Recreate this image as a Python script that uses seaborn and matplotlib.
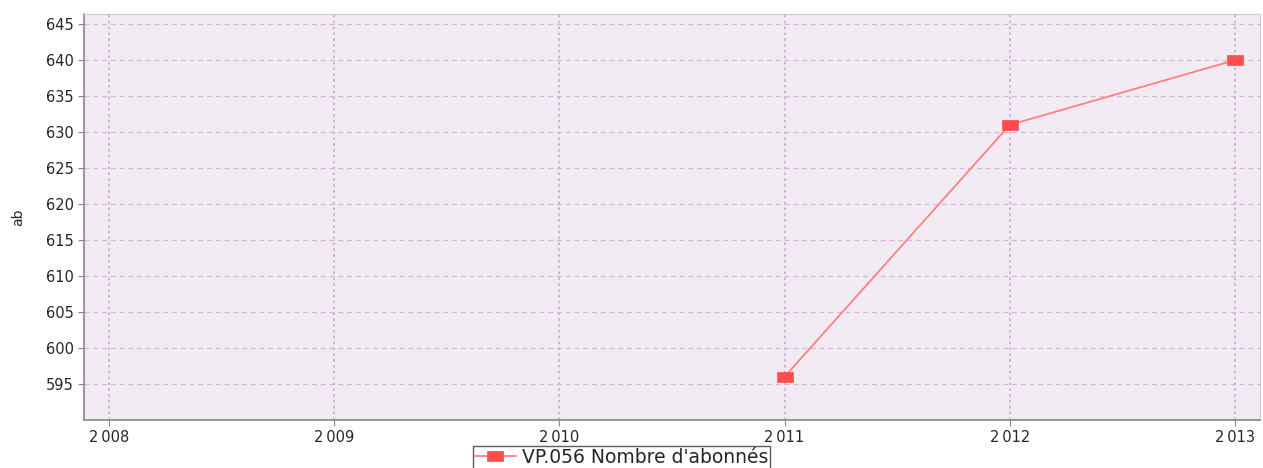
import matplotlib
matplotlib.use("Agg")
import matplotlib.pyplot as plt
import seaborn as sns
import pandas as pd

# données
years = [2011, 2012, 2013]
abonnes = [596, 631, 640]
xticks = [2008, 2009, 2010, 2011, 2012, 2013]
yticks = [595, 600, 605, 610, 615, 620, 625, 630, 635, 640, 645]
serie = "VP.056 Nombre d'abonnés"

sns.set_style("white")
plt.rcParams['font.family'] = ['DejaVu Sans']

df = pd.DataFrame({'annee': years, 'ab': abonnes})

# marqueur rectangulaire (plus large que haut)
rect = [(-1.5, -1), (1.5, -1), (1.5, 1), (-1.5, 1), (-1.5, -1)]

fig = plt.figure(figsize=(12.63, 4.68), dpi=100)
ax = fig.add_axes([0.0665, 0.1026, 0.931, 0.8674])
ax.set_facecolor('#f3ebf3')

sns.lineplot(data=df, x='annee', y='ab', ax=ax, color='#ff8080', linewidth=1.3,
             marker=rect, markersize=11, markerfacecolor='#ff4d4d',
             markeredgecolor='#ff4d4d', markeredgewidth=0.5, label=serie)

ax.set_xlim(2007.89, 2013.11)
ax.set_ylim(590, 646.4)
ax.set_xticks(xticks)
ax.set_xticklabels([f"{y // 1000}\u2009{y % 1000:03d}" for y in xticks], fontsize=10.5)
ax.set_yticks(yticks)
ax.set_yticklabels([str(v) for v in yticks], fontsize=10.5)
ax.tick_params(axis='both', length=4, color='#888888', direction='out', bottom=True, left=True)

ax.yaxis.grid(True, linestyle=(0, (4, 3)), color='#d3b8d6', linewidth=0.9)
ax.xaxis.grid(True, linestyle=(0, (1.5, 2)), color='#cba6d3', linewidth=1.2)

for side in ['left', 'bottom']:
    ax.spines[side].set_color('#888888')
    ax.spines[side].set_linewidth(1.2)
for side in ['top', 'right']:
    ax.spines[side].set_color('#cccccc')

ax.set_xlabel('')
ax.set_ylabel('ab', fontsize=10)
ax.yaxis.set_label_coords(-0.05, 0.5)

leg = ax.legend(loc='upper center', bbox_to_anchor=(0.457, -0.064), frameon=True,
                fancybox=False, fontsize=13.5, handlelength=2.2, borderpad=0.1,
                handletextpad=0.3, borderaxespad=0)
leg.get_frame().set_edgecolor('#333333')
leg.get_frame().set_linewidth(1.0)

fig.savefig('out.png', dpi=100)
